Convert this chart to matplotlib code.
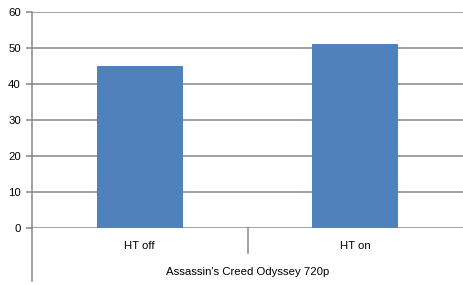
import matplotlib
matplotlib.use("Agg")
from matplotlib import pyplot as plt

categories = ["HT off", "HT on"]
values = [45, 51]
group_label = "Assassin's Creed Odyssey 720p"
y_ticks = [0, 10, 20, 30, 40, 50, 60]

bar_color = "#4F81BD"
grid_color = "#868686"

plt.rcParams["font.family"] = ["Liberation Sans", "DejaVu Sans"]

fig = plt.figure(figsize=(4.63, 2.85), dpi=100)
ax = fig.add_axes([32 / 463, 1 - 228 / 285, 431 / 463, 216 / 285])

x = list(range(len(categories)))
ax.bar(x, values, width=0.4, color=bar_color, zorder=3)

ax.set_xlim(-0.5, 1.5)
ax.set_ylim(0, 60)
ax.set_yticks(y_ticks)
ax.set_xticks([])
for t in y_ticks:
    ax.axhline(t, color=grid_color, lw=1.1, zorder=1)

for s in ["top", "right", "bottom"]:
    ax.spines[s].set_visible(False)
ax.spines["left"].set_color(grid_color)
ax.spines["left"].set_linewidth(1.1)
ax.spines["left"].set_bounds(0, 60)
ax.tick_params(axis="y", length=4, width=1.1, color=grid_color,
               labelsize=8.2, pad=4)

# multi-level category axis
xt = ax.get_xaxis_transform()
ax.plot([-0.5, -0.5], [0, -0.245], transform=xt, color=grid_color,
        lw=1.1, clip_on=False)
ax.plot([0.5, 0.5], [0, -0.116], transform=xt, color=grid_color,
        lw=1.1, clip_on=False)
for xi, c in zip(x, categories):
    ax.text(xi, -0.083, c, transform=xt, ha="center", va="center",
            fontsize=8.2)
ax.text(0.5, -0.204, group_label, transform=xt, ha="center", va="center",
        fontsize=8.2)

fig.savefig("out.png", dpi=100)
